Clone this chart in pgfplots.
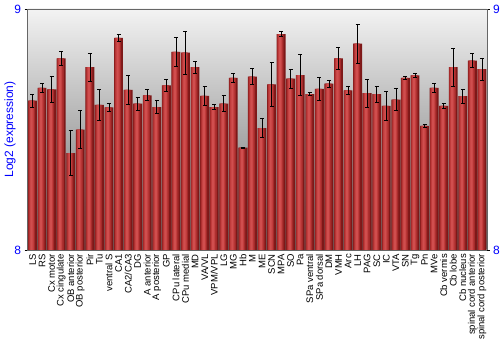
\documentclass[border=0pt]{standalone}
\usepackage{pgfplots}
\pgfplotsset{compat=1.18}
\usepackage{pgfplotstable}
\usepackage{fontspec}
\setmainfont{Liberation Sans}
\definecolor{barA}{RGB}{125,24,24}
\definecolor{barB}{RGB}{165,42,42}
\definecolor{barC}{RGB}{192,60,60}
\definecolor{barD}{RGB}{208,78,78}
\definecolor{bgtop}{RGB}{243,243,243}
\definecolor{bgbot}{RGB}{105,105,105}
\pgfplotstableread{
x y e
0 8.620 0.027
1 8.673 0.017
2 8.667 0.054
3 8.795 0.028
4 8.402 0.094
5 8.499 0.079
6 8.759 0.058
7 8.602 0.064
8 8.592 0.015
9 8.880 0.013
10 8.664 0.061
11 8.607 0.028
12 8.642 0.023
13 8.593 0.028
14 8.683 0.025
15 8.822 0.062
16 8.819 0.090
17 8.759 0.024
18 8.639 0.039
19 8.593 0.010
20 8.607 0.033
21 8.714 0.018
22 8.425 0.003
23 8.719 0.033
24 8.506 0.039
25 8.687 0.091
26 8.896 0.010
27 8.711 0.040
28 8.726 0.085
29 8.647 0.007
30 8.669 0.047
31 8.690 0.014
32 8.795 0.047
33 8.662 0.016
34 8.856 0.082
35 8.651 0.059
36 8.647 0.033
37 8.598 0.062
38 8.624 0.046
39 8.714 0.005
40 8.725 0.009
41 8.515 0.005
42 8.673 0.017
43 8.598 0.010
44 8.759 0.079
45 8.638 0.030
46 8.786 0.030
47 8.751 0.046
}\datatable
\begin{document}
\begin{tikzpicture}
\begin{axis}[
  at={(0pt,0pt)}, anchor=south west,
  scale only axis, width=459pt, height=241pt,
  xmin=-0.5, xmax=47.5, ymin=8, ymax=9,
  axis background/.style={top color=bgtop, bottom color=bgbot},
  axis line style={gray!80!black},
  ytick={8,9},
  yticklabel style={text=blue, font=\fontsize{12}{13}\selectfont},
  /pgf/number format/assume math mode=true,
  yticklabel pos=left,
  tick align=outside, major tick length=3pt,
  y tick style={black},
  xtick=data,
  xtick style={draw=none},
  xticklabels={LS,RS,Cx motor,Cx cingulate,OB anterior,OB posterior,Pir,Tu,ventral S,CA1,CA2/CA3,DG,A anterior,A posterior,GP,CPu lateral,CPu medial,MD,VA/VL,VPM/VPL,LG,MG,Hb,M,ME,SCN,MPA,SO,Pa,SPa ventral,SPa dorsal,DM,VMH,Arc,LH,PAG,SC,IC,VTA,SN,Tg,Pn,MVe,Cb vermis,Cb lobe,Cb nucleus,spinal cord anterior,spinal cord posterior},
  xticklabel style={rotate=90, anchor=east, font=\fontsize{9.5}{10}\selectfont, inner sep=1pt},
  ylabel={Log2 (expression)},
  every axis y label/.style={at={(-17.7pt,120.5pt)}, rotate=90, anchor=center, text=blue, font=\fontsize{12}{13}\selectfont},
  clip=true,
]
\addplot[ybar, bar width=8.9pt, draw=none, fill=barA, bar shift=0pt] table[x=x, y=y]{\datatable};
\addplot[ybar, bar width=6.6pt, draw=none, fill=barB, bar shift=-0.7pt] table[x=x, y=y]{\datatable};
\addplot[ybar, bar width=4.4pt, draw=none, fill=barC, bar shift=-0.9pt] table[x=x, y=y]{\datatable};
\addplot[ybar, bar width=2.2pt, draw=none, fill=barD, bar shift=-0.9pt] table[x=x, y=y]{\datatable};
\addplot[draw=none, no markers,
  error bars/.cd, y dir=both, y explicit,
  error bar style={draw=black, line width=0.7pt},
  error mark options={rotate=90, mark size=2pt, draw=black, line width=0.7pt}]
  table[x=x, y=y, y error=e]{\datatable};
\end{axis}
\begin{axis}[
  at={(0pt,0pt)}, anchor=south west,
  scale only axis, width=459pt, height=241pt,
  xmin=-0.5, xmax=47.5, ymin=8, ymax=9,
  axis x line=none, axis y line*=right,
  axis line style={gray!80!black},
  ytick={8,9},
  yticklabel style={text=blue, font=\fontsize{12}{13}\selectfont},
  /pgf/number format/assume math mode=true,
  tick align=outside, major tick length=3pt,
  y tick style={black},
]
\addplot[draw=none] coordinates {(0,8.5)};
\end{axis}
\pgfresetboundingbox
\path (-27.7pt,-100pt) rectangle (472.3pt,250pt);
\end{tikzpicture}
\end{document}
